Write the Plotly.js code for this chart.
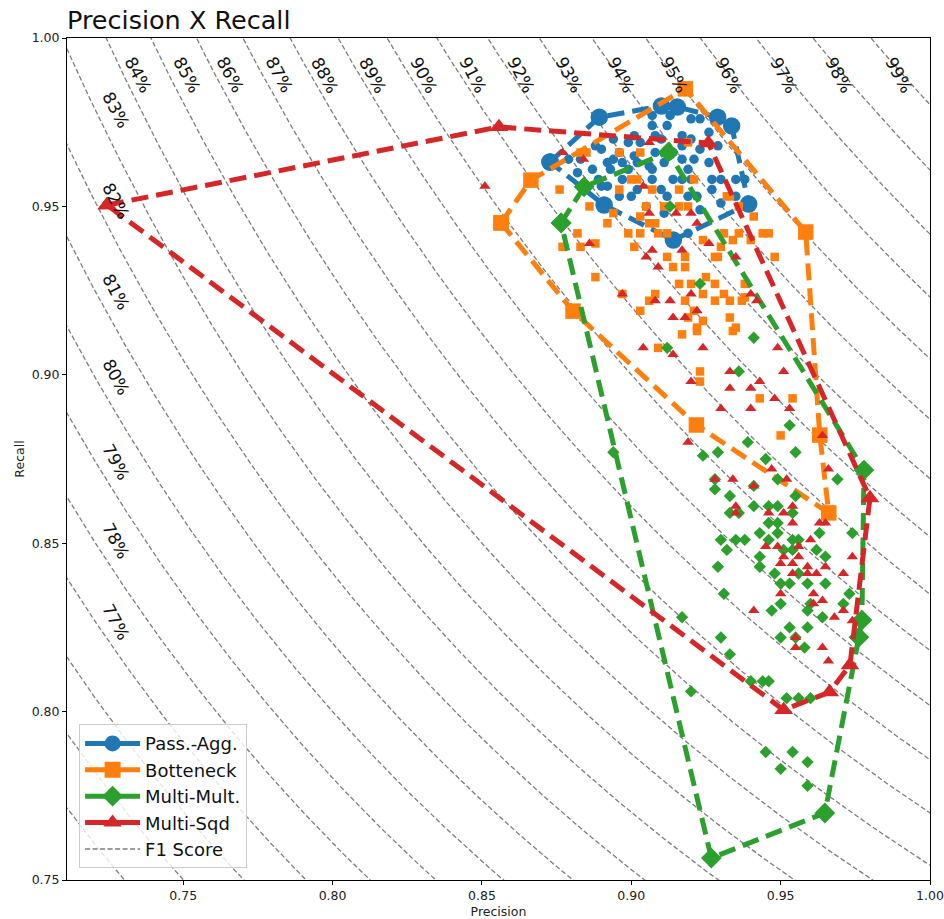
<!DOCTYPE html>
<html>
<head>
<meta charset="utf-8">
<script src="https://cdn.plot.ly/plotly-3.0.1.min.js"></script>
<style>html,body{margin:0;padding:0;background:#fff;}#chart{width:944px;height:919px;}</style>
</head>
<body>
<div id="chart"></div>
<script>
// ---------- Data ----------
const seriesNames = ['Pass.-Agg.', 'Botteneck', 'Multi-Mult.', 'Multi-Sqd'];

// Pass.-Agg. individual runs
const paPrecision = [0.879,0.883,0.892,0.893,0.897,0.899,0.902,0.906,0.907,0.911,0.899,0.901,0.903,0.907,0.908,0.912,0.917,0.907,0.913,0.920,0.923,0.926,0.929,0.917,0.921,0.926,0.889,0.892,0.896,0.902,0.907,0.910,0.914,0.917,0.920,0.927,0.930,0.935,0.900,0.912,0.919,0.922,0.911,0.930,0.890,0.919,0.914,0.896,0.894,0.888,0.917,0.908,0.901,0.887,0.882,0.897,0.905,0.923,0.938,0.935,0.894,0.890,0.910,0.920,0.923,0.927,0.919];
const paRecall    = [0.964,0.964,0.963,0.961,0.963,0.961,0.963,0.962,0.961,0.963,0.969,0.971,0.969,0.974,0.971,0.974,0.971,0.977,0.977,0.976,0.976,0.972,0.968,0.964,0.964,0.963,0.958,0.956,0.953,0.955,0.958,0.955,0.958,0.958,0.958,0.958,0.958,0.958,0.953,0.953,0.953,0.953,0.948,0.951,0.956,0.961,0.966,0.966,0.964,0.968,0.968,0.966,0.965,0.961,0.960,0.958,0.950,0.949,0.958,0.953,0.970,0.967,0.970,0.970,0.967,0.955,0.942];
// Pass.-Agg. hull
const paHullPrecision = [0.8728,0.8893,0.9101,0.9154,0.9289,0.9336,0.9393,0.9141,0.8909,0.8728];
const paHullRecall    = [0.9632,0.9765,0.9798,0.9795,0.9765,0.9739,0.9507,0.9400,0.9504,0.9632];

// Botteneck individual runs
const btPrecision = [0.883,0.885,0.896,0.903,0.919,0.876,0.900,0.916,0.921,0.886,0.894,0.905,0.911,0.916,0.919,0.933,0.936,0.941,0.892,0.903,0.906,0.908,0.899,0.903,0.901,0.909,0.912,0.882,0.877,0.883,0.888,0.912,0.914,0.918,0.918,0.888,0.916,0.920,0.925,0.924,0.928,0.928,0.931,0.933,0.938,0.938,0.929,0.924,0.931,0.936,0.934,0.944,0.897,0.908,0.906,0.903,0.918,0.921,0.933,0.935,0.924,0.919,0.922,0.917,0.922,0.934,0.909,0.923,0.923,0.943,0.954,0.950,0.946,0.948,0.930,0.928,0.896,0.902,0.907,0.932,0.940,0.937];
const btRecall    = [0.966,0.966,0.966,0.966,0.969,0.955,0.958,0.955,0.958,0.950,0.948,0.950,0.950,0.950,0.950,0.953,0.950,0.947,0.945,0.947,0.945,0.945,0.942,0.942,0.938,0.942,0.942,0.942,0.938,0.938,0.939,0.935,0.932,0.935,0.932,0.929,0.927,0.927,0.929,0.924,0.927,0.922,0.924,0.922,0.927,0.923,0.935,0.940,0.942,0.942,0.940,0.942,0.924,0.924,0.922,0.919,0.922,0.919,0.917,0.914,0.916,0.917,0.914,0.912,0.913,0.913,0.908,0.901,0.898,0.893,0.893,0.882,0.942,0.935,0.938,0.935,0.955,0.958,0.955,0.953,0.940,0.922];
const btHullPrecision = [0.8564,0.8664,0.9181,0.9584,0.9631,0.9661,0.9218,0.8805,0.8564];
const btHullRecall    = [0.9451,0.9578,0.9849,0.9424,0.8821,0.8590,0.8851,0.9189,0.9451];

// Multi-Mult. individual runs
const mmPrecision = [0.913,0.923,0.941,0.912,0.936,0.953,0.939,0.929,0.955,0.924,0.945,0.969,0.928,0.928,0.949,0.941,0.933,0.941,0.946,0.949,0.955,0.954,0.933,0.936,0.946,0.949,0.943,0.949,0.930,0.935,0.938,0.946,0.954,0.956,0.963,0.974,0.932,0.943,0.951,0.954,0.962,0.965,0.929,0.943,0.948,0.956,0.950,0.953,0.959,0.965,0.973,0.950,0.960,0.947,0.959,0.971,0.931,0.917,0.964,0.953,0.959,0.950,0.955,0.958,0.930,0.933,0.940,0.944,0.946,0.920,0.952,0.956,0.960,0.945,0.954,0.959,0.950,0.959,0.894];
const mmRecall    = [0.950,0.927,0.911,0.908,0.901,0.885,0.880,0.877,0.877,0.876,0.875,0.869,0.869,0.866,0.869,0.867,0.864,0.861,0.861,0.861,0.864,0.859,0.859,0.859,0.856,0.856,0.853,0.853,0.851,0.851,0.851,0.851,0.851,0.851,0.853,0.853,0.848,0.846,0.848,0.848,0.848,0.846,0.843,0.843,0.841,0.841,0.838,0.838,0.838,0.838,0.835,0.832,0.832,0.830,0.830,0.832,0.835,0.828,0.828,0.825,0.825,0.822,0.822,0.819,0.822,0.817,0.809,0.809,0.809,0.806,0.804,0.804,0.804,0.788,0.788,0.785,0.783,0.778,0.877];
const mmHullPrecision = [0.8765,0.8842,0.9124,0.9779,0.9772,0.9762,0.9648,0.9268,0.8765];
const mmHullRecall    = [0.9451,0.9558,0.9661,0.8717,0.8272,0.8221,0.7699,0.7565,0.9451];

// Multi-Sqd individual runs
const msPrecision = [0.851,0.877,0.884,0.906,0.904,0.906,0.915,0.920,0.922,0.886,0.907,0.905,0.917,0.926,0.935,0.909,0.897,0.908,0.913,0.920,0.922,0.914,0.918,0.940,0.942,0.904,0.914,0.924,0.949,0.933,0.920,0.951,0.943,0.933,0.940,0.948,0.930,0.940,0.953,0.964,0.919,0.928,0.934,0.941,0.947,0.952,0.966,0.935,0.935,0.946,0.951,0.954,0.954,0.963,0.965,0.960,0.945,0.949,0.956,0.951,0.956,0.974,0.950,0.954,0.959,0.965,0.962,0.954,0.959,0.971,0.950,0.961,0.961,0.964,0.971,0.968,0.941,0.955,0.955,0.964,0.966,0.974];
const msRecall    = [0.956,0.966,0.964,0.969,0.956,0.948,0.948,0.948,0.945,0.939,0.937,0.935,0.937,0.939,0.935,0.932,0.924,0.922,0.922,0.924,0.919,0.917,0.917,0.924,0.922,0.908,0.906,0.908,0.908,0.901,0.898,0.901,0.898,0.896,0.896,0.893,0.890,0.890,0.890,0.882,0.880,0.869,0.869,0.867,0.872,0.869,0.872,0.861,0.859,0.859,0.859,0.861,0.856,0.856,0.856,0.851,0.849,0.849,0.849,0.846,0.846,0.846,0.844,0.844,0.843,0.843,0.841,0.841,0.841,0.841,0.835,0.835,0.832,0.833,0.830,0.828,0.830,0.822,0.819,0.819,0.815,0.827];
const msHullPrecision = [0.7245,0.8557,0.9258,0.9799,0.9732,0.9664,0.9510,0.7245];
const msHullRecall    = [0.9504,0.9736,0.9688,0.8634,0.8138,0.8058,0.8005,0.9504];

// F1 iso-curves
const f1Levels = [0.70,0.71,0.72,0.73,0.74,0.75,0.76,0.77,0.78,0.79,0.80,0.81,0.82,0.83,0.84,0.85,0.86,0.87,0.88,0.89,0.90,0.91,0.92,0.93,0.94,0.95,0.96,0.97,0.98,0.99];
const f1LabelText = ['77%','78%','79%','80%','81%','82%','83%','84%','85%','86%','87%','88%','89%','90%','91%','92%','93%','94%','95%','96%','97%','98%','99%'];
const f1LabelPrecision = [0.7275,0.7275,0.7275,0.7275,0.7275,0.7275,0.7275,0.7349,0.7513,0.7658,0.7822,0.7973,0.8134,0.8305,0.8470,0.8631,0.8792,0.8966,0.9144,0.9326,0.9510,0.9695,0.9896];
const f1LabelRecall    = [0.8266,0.8507,0.8741,0.8993,0.9246,0.9516,0.9786,0.989,0.989,0.989,0.989,0.989,0.989,0.989,0.989,0.989,0.989,0.989,0.989,0.989,0.989,0.989,0.989];

// ---------- Build ----------
const colors = ['#1f77b4', '#ff7f0e', '#2ca02c', '#d62728'];
const symbols = ['circle', 'square', 'diamond', 'triangle-up'];
const smallSizes = [9.5, 8.5, 9.5, 10];
const bigSizes = [17.5, 15.5, 16, 16.5];
const smallP = [paPrecision, btPrecision, mmPrecision, msPrecision];
const smallR = [paRecall, btRecall, mmRecall, msRecall];
const hullP = [paHullPrecision, btHullPrecision, mmHullPrecision, msHullPrecision];
const hullR = [paHullRecall, btHullRecall, mmHullRecall, msHullRecall];

const FONT = 'DejaVu Sans, Liberation Sans, sans-serif';
const F1_COLOR = 'rgb(125,125,125)';

// F1 curves as one trace, separated by gaps
const fx = [], fy = [];
f1Levels.forEach(function (f) {
  const N = 400;
  for (let i = 0; i <= N; i++) {
    const p = 0.70 + 0.30 * i / N;
    const d = 2 * p - f;
    if (d <= 0) continue;
    const r = f * p / d;
    if (r > 1.03 || r < 0.70) continue;
    fx.push(p); fy.push(r);
  }
  fx.push(null); fy.push(null);
});

const traces = [];
traces.push({
  x: fx, y: fy, type: 'scatter', mode: 'lines', name: 'F1 Score',
  line: {color: F1_COLOR, width: 1.3, dash: '5px,2.5px'},
  connectgaps: false, showlegend: false, hoverinfo: 'skip'
});

for (let k = 0; k < 4; k++) {
  traces.push({
    x: smallP[k], y: smallR[k], type: 'scatter', mode: 'markers',
    marker: {color: colors[k], symbol: symbols[k], size: smallSizes[k], line: {width: 0}},
    showlegend: false, name: seriesNames[k]
  });
  traces.push({
    x: hullP[k], y: hullR[k], type: 'scatter', mode: 'lines+markers',
    line: {color: colors[k], width: 5, dash: '17px,8px'},
    marker: {color: colors[k], symbol: symbols[k], size: bigSizes[k], line: {width: 0}},
    showlegend: false, name: seriesNames[k]
  });
}

// legend entries
for (let k = 0; k < 4; k++) {
  traces.push({
    x: [null], y: [null], type: 'scatter', mode: 'lines+markers', name: seriesNames[k],
    legendgroup: 'g' + k,
    line: {color: colors[k], width: 5},
    marker: {color: colors[k], symbol: symbols[k], size: 16},
    showlegend: true
  });
}
traces.push({
  x: [null], y: [null], type: 'scatter', mode: 'lines', name: 'F1 Score',
  legendgroup: 'g4',
  line: {color: F1_COLOR, width: 1.3, dash: '5px,2.5px'},
  showlegend: true
});

const annotations = f1LabelText.map(function (t, i) {
  return {
    x: f1LabelPrecision[i], y: f1LabelRecall[i], xref: 'x', yref: 'y',
    text: t, showarrow: false, textangle: 62,
    font: {family: FONT, size: 17, color: '#111'}
  };
});

const tickVals = [0.75, 0.80, 0.85, 0.90, 0.95, 1.00];
const tickText = ['0.75', '0.80', '0.85', '0.90', '0.95', '1.00'];

const layout = {
  width: 944, height: 919,
  margin: {l: 67, r: 14, t: 38, b: 39},
  paper_bgcolor: '#fff', plot_bgcolor: '#fff',
  font: {family: FONT, color: '#222'},
  title: {
    text: 'Precision X Recall', font: {family: FONT, size: 25.5, color: '#111'},
    x: 0, xref: 'paper', xanchor: 'left',
    y: 1 - 20 / 919, yref: 'container', yanchor: 'middle'
  },
  xaxis: {
    range: [0.7111, 1.0], tickvals: tickVals, ticktext: tickText,
    ticks: 'outside', ticklen: 4, tickwidth: 1, tickcolor: '#000',
    showline: true, mirror: true, linecolor: '#000', linewidth: 1,
    showgrid: false, zeroline: false,
    tickfont: {family: FONT, size: 12.5, color: '#222'},
    title: {text: 'Precision', font: {family: FONT, size: 12.5, color: '#222'}, standoff: 5}
  },
  yaxis: {
    range: [0.75, 1.0], tickvals: tickVals, ticktext: tickText,
    ticks: 'outside', ticklen: 4, tickwidth: 1, tickcolor: '#000',
    showline: true, mirror: true, linecolor: '#000', linewidth: 1,
    showgrid: false, zeroline: false,
    tickfont: {family: FONT, size: 12.5, color: '#222'},
    title: {text: 'Recall', font: {family: FONT, size: 12.5, color: '#222'}, standoff: 4}
  },
  showlegend: true,
  legend: {
    x: 0.014, y: 0.014, xanchor: 'left', yanchor: 'bottom',
    bgcolor: 'rgba(255,255,255,0.8)', bordercolor: '#cccccc', borderwidth: 1,
    font: {family: FONT, size: 18, color: '#111'},
    itemwidth: 55, tracegroupgap: 3, traceorder: 'normal'
  },
  annotations: annotations
};

Plotly.newPlot('chart', traces, layout, {staticPlot: true, displayModeBar: false});
</script>
</body>
</html>
